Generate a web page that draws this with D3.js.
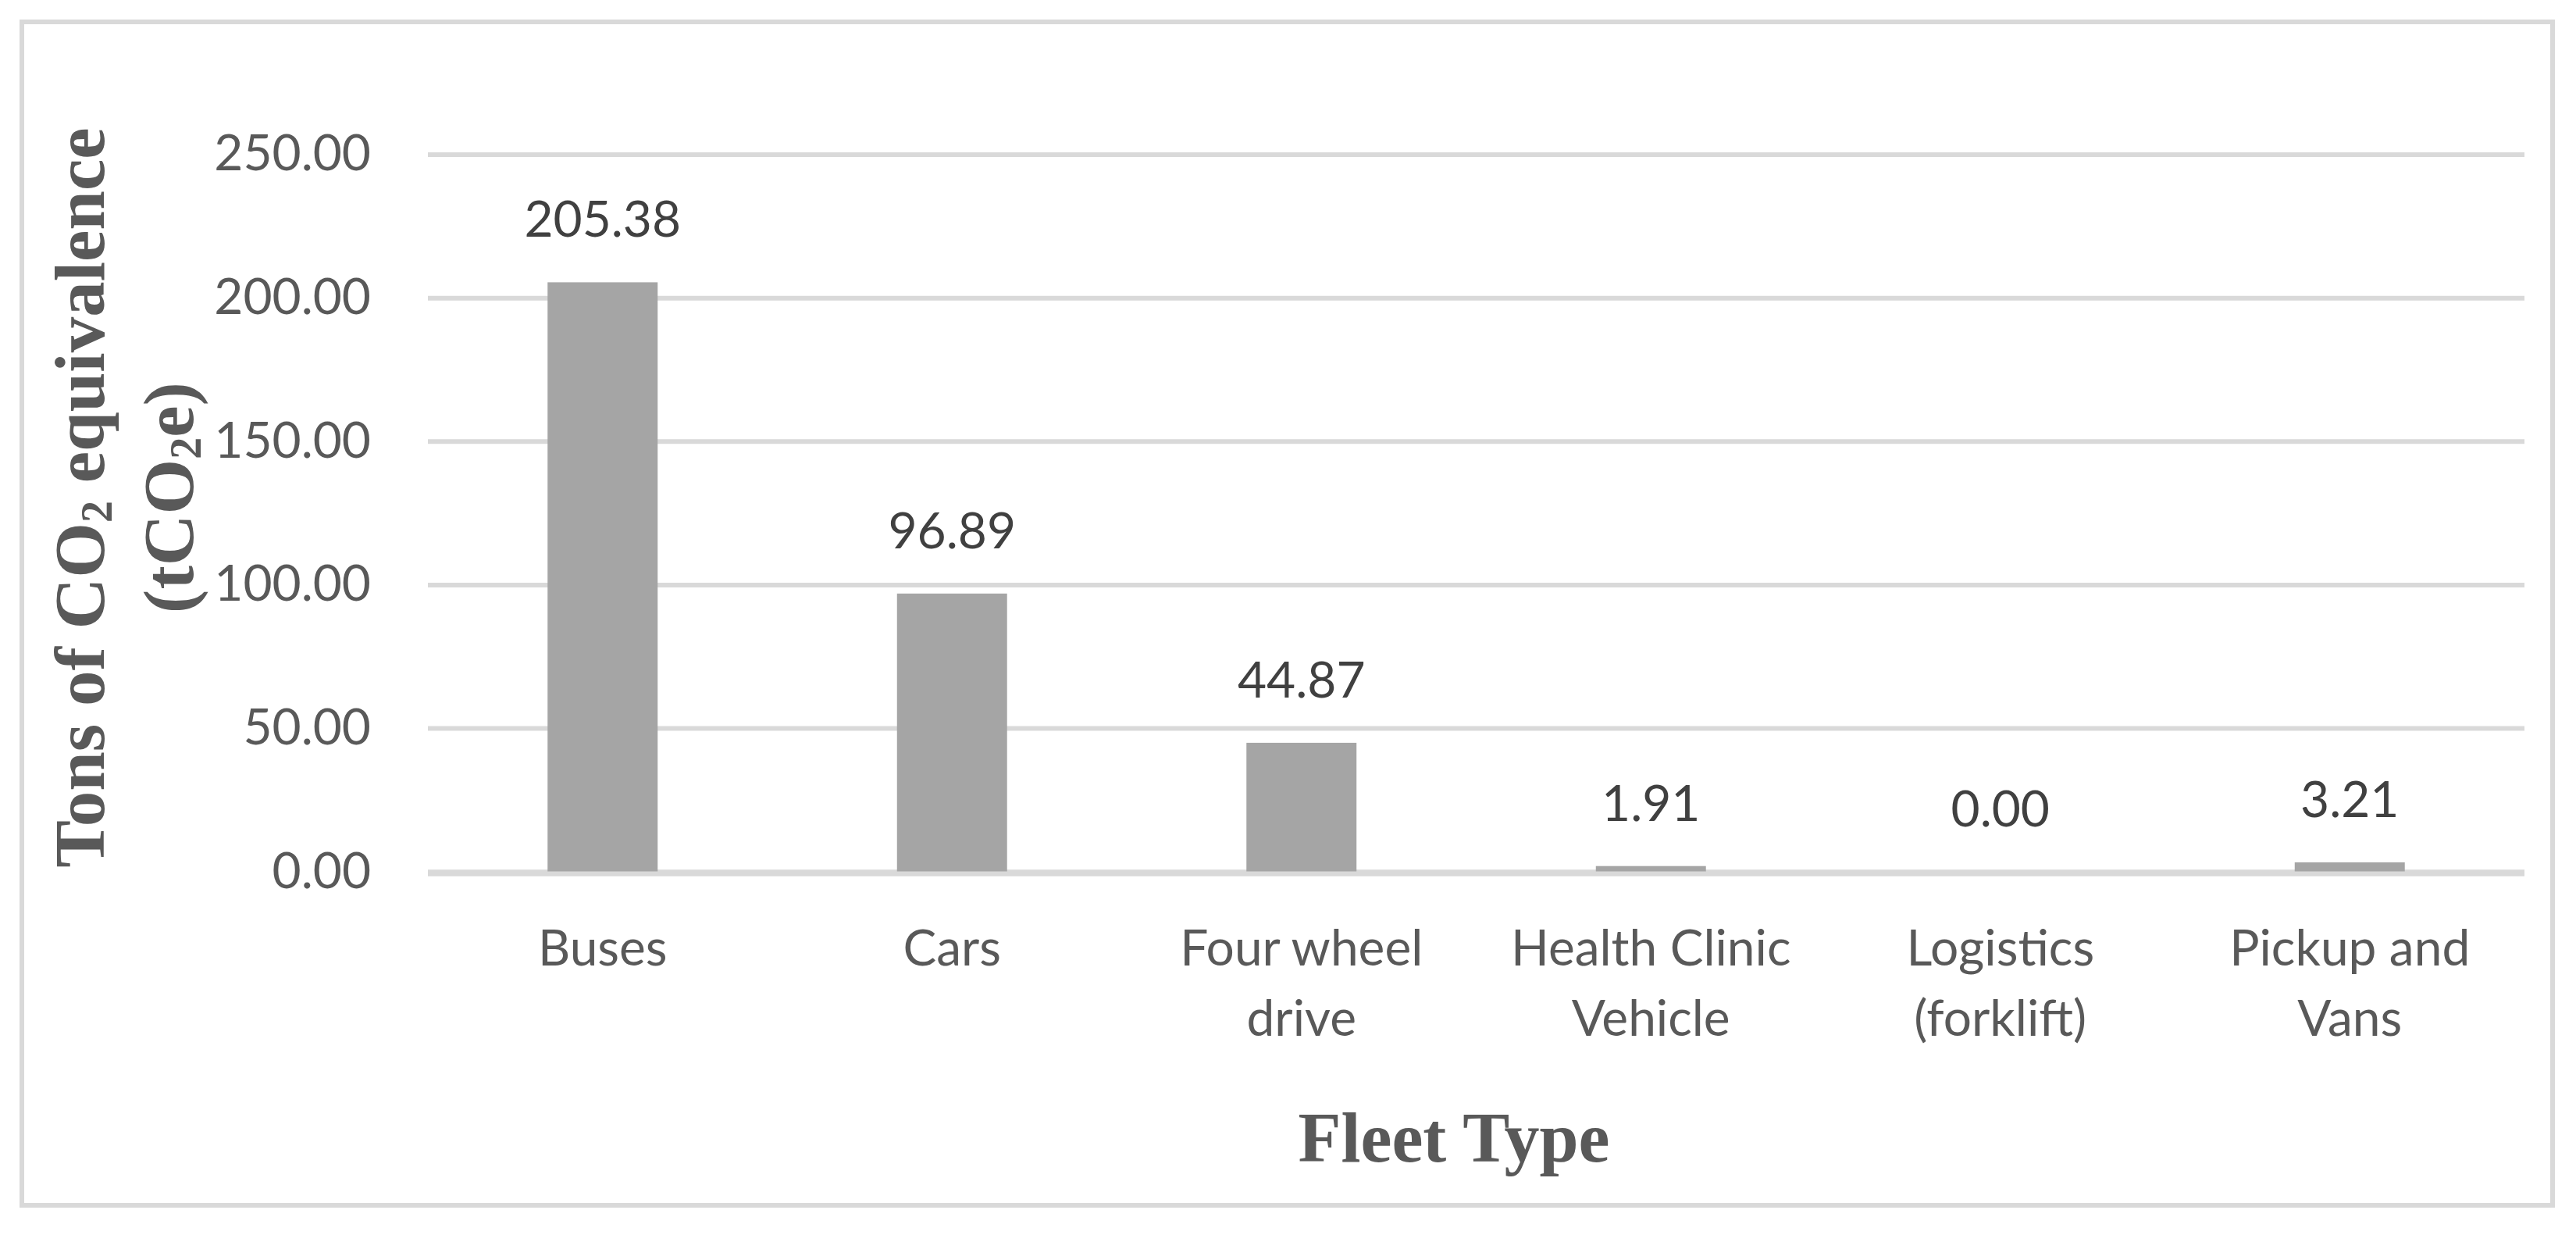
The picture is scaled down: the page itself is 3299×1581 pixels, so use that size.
<!DOCTYPE html>
<html>
<head>
<meta charset="utf-8">
<script src="https://cdn.jsdelivr.net/npm/d3@7"></script>
<style>
  html, body { margin: 0; padding: 0; background: #ffffff; }
  svg { display: block; }
</style>
</head>
<body>
<svg id="chart" width="3299" height="1581"></svg>
<script>
// ---- data ----
const categories = ["Buses", "Cars", "Four wheel drive", "Health Clinic Vehicle", "Logistics (forklift)", "Pickup and Vans"];
const values = [205.38, 96.89, 44.87, 1.91, 0.00, 3.21];
const yTicks = [0, 50, 100, 150, 200, 250];
const xTitle = "Fleet Type";
const yTitleLine1 = ["Tons of CO", "2", " equivalence"];
const yTitleLine2 = ["(tCO", "2", "e)"];

// ---- layout ----
const W = 3299, H = 1581;
const plot = { left: 548, right: 3233, top: 197.5, bottom: 1115.7 };
const tickFont = "Lato, 'Open Sans', sans-serif";
const titleFont = "'Palatino Linotype', 'Book Antiqua', Palatino, 'Liberation Serif', serif";

const svg = d3.select("#chart");

// outer chart border
svg.append("rect")
  .attr("x", 28).attr("y", 28)
  .attr("width", 3241).attr("height", 1515)
  .attr("fill", "#ffffff")
  .attr("stroke", "#d9d9d9")
  .attr("stroke-width", 6);

const x = d3.scaleBand()
  .domain(categories)
  .range([plot.left, plot.right])
  .paddingInner(0.685)
  .paddingOuter(0.3425);

const y = d3.scaleLinear()
  .domain([0, 250])
  .range([plot.bottom, plot.top]);

// y axis with gridlines
const yAxis = d3.axisLeft(y)
  .tickValues(yTicks)
  .tickFormat(d3.format(".2f"))
  .tickSizeInner(-(plot.right - plot.left))
  .tickSizeOuter(0)
  .tickPadding(73);

const gy = svg.append("g")
  .attr("transform", `translate(${plot.left},0)`)
  .call(yAxis);
gy.select(".domain").remove();
gy.selectAll(".tick line")
  .attr("stroke", "#d9d9d9")
  .attr("stroke-width", 6);
gy.selectAll(".tick text")
  .attr("fill", "#595959")
  .attr("font-family", tickFont)
  .attr("font-size", 64)
  .attr("dy", "0.32em");

// bars
svg.append("g")
  .selectAll("rect")
  .data(values)
  .join("rect")
  .attr("x", (d, i) => x(categories[i]))
  .attr("y", d => y(d))
  .attr("width", x.bandwidth())
  .attr("height", d => y(0) - y(d))
  .attr("fill", "#a5a5a5");

// zero baseline drawn over bars
svg.append("line")
  .attr("x1", plot.left).attr("x2", plot.right)
  .attr("y1", y(0) + 3).attr("y2", y(0) + 3)
  .attr("stroke", "#d9d9d9")
  .attr("stroke-width", 6);

// value labels
svg.append("g")
  .selectAll("text")
  .data(values)
  .join("text")
  .attr("x", (d, i) => x(categories[i]) + x.bandwidth() / 2)
  .attr("y", d => y(d) - 58)
  .attr("text-anchor", "middle")
  .attr("font-family", tickFont)
  .attr("font-size", 64)
  .attr("fill", "#404040")
  .text(d => d3.format(".2f")(d));

// category labels with wrapping
const maxLabelWidth = x.step() * 0.95;
const gx = svg.append("g");
categories.forEach((c, i) => {
  const cx = x(c) + x.bandwidth() / 2;
  const t = gx.append("text")
    .attr("x", cx)
    .attr("y", 1236)
    .attr("text-anchor", "middle")
    .attr("font-family", tickFont)
    .attr("font-size", 64)
    .attr("fill", "#595959");
  const words = c.split(" ");
  let line = [];
  let lineNo = 0;
  let tspan = t.append("tspan").attr("x", cx).attr("y", 1236);
  words.forEach(w => {
    line.push(w);
    tspan.text(line.join(" "));
    if (tspan.node().getComputedTextLength() > maxLabelWidth && line.length > 1) {
      line.pop();
      tspan.text(line.join(" "));
      line = [w];
      lineNo++;
      tspan = t.append("tspan").attr("x", cx).attr("y", 1236 + lineNo * 90).text(w);
    }
  });
});

// x axis title
svg.append("text")
  .attr("x", 1862)
  .attr("y", 1487)
  .attr("text-anchor", "middle")
  .attr("font-family", titleFont)
  .attr("font-weight", "bold")
  .attr("font-size", 90)
  .attr("fill", "#595959")
  .text(xTitle);

// y axis title (two lines, rotated)
function titleLine(parts, baselineX) {
  const t = svg.append("text")
    .attr("transform", `translate(${baselineX},637) rotate(-90)`)
    .attr("text-anchor", "middle")
    .attr("font-family", titleFont)
    .attr("font-weight", "bold")
    .attr("font-size", 91)
    .attr("fill", "#595959");
  t.append("tspan").text(parts[0]);
  t.append("tspan").attr("font-size", 56).attr("dy", 10).text(parts[1]);
  t.append("tspan").attr("dy", -10).text(parts[2]);
}
titleLine(yTitleLine1, 133);
titleLine(yTitleLine2, 247);
</script>
</body>
</html>
